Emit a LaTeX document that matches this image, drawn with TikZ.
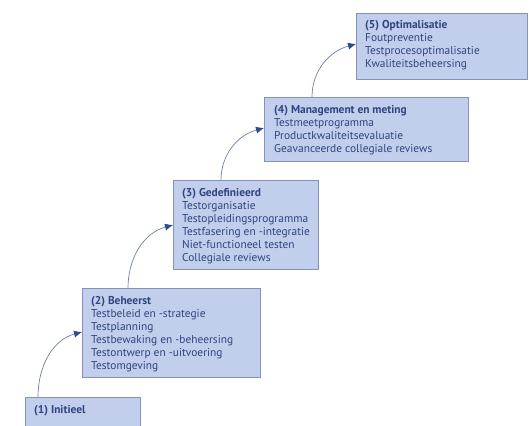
\documentclass[tikz,border=0pt]{standalone}
\usepackage{fontspec}
\setmainfont{PT Sans}
\usetikzlibrary{arrows.meta}
\definecolor{boxfill}{HTML}{C2CFEC}
\definecolor{boxline}{HTML}{8593BC}
\definecolor{txt}{HTML}{2E4480}
\definecolor{arr}{HTML}{2B4C8C}
\definecolor{lin}{HTML}{6F7FA8}
\begin{document}
\begin{tikzpicture}[x=1pt,y=-1pt,
  level/.style={draw=boxline,fill=boxfill,line width=0.8pt,inner sep=0pt,anchor=north west},
  lbl/.style={anchor=north west,inner sep=0pt,align=left,text=txt,font=\fontsize{11.4}{13}\selectfont},
  stepArrow/.style={draw=lin,line width=0.7pt,-{Latex[length=8pt,width=7pt,color=arr]}}]
\useasboundingbox (0,0) rectangle (529,425);
% boxes
\node[level,minimum width=115pt,minimum height=35pt] (b1) at (25,397) {};
\node[level,minimum width=178pt,minimum height=89pt] (b2) at (82,288) {};
\node[level,minimum width=145pt,minimum height=89pt] (b3) at (173,180) {};
\node[level,minimum width=204pt,minimum height=64pt] (b4) at (264,97) {};
\node[level,minimum width=171pt,minimum height=66pt] (b5) at (356,13) {};
% texts
\node[lbl] (t1) at ([xshift=9pt,yshift=-8pt]b1.north west) {\textbf{(1) Initieel}};
\node[lbl] (t2) at ([xshift=9pt,yshift=-8pt]b2.north west) {\textbf{(2) Beheerst}\\Testbeleid en -strategie\\Testplanning\\Testbewaking en -beheersing\\Testontwerp en -uitvoering\\Testomgeving};
\node[lbl] (t3) at ([xshift=9pt,yshift=-8pt]b3.north west) {\textbf{(3) Gedefinieerd}\\Testorganisatie\\Testopleidingsprogramma\\Testfasering en -integratie\\Niet-functioneel testen\\Collegiale reviews};
\node[lbl] (t4) at ([xshift=10pt,yshift=-8pt]b4.north west) {\textbf{(4) Management en meting}\\Testmeetprogramma\\Productkwaliteitsevaluatie\\Geavanceerde collegiale reviews};
\node[lbl] (t5) at ([xshift=9pt,yshift=-7pt]b5.north west) {\textbf{(5) Optimalisatie}\\Foutpreventie\\Testprocesoptimalisatie\\Kwaliteitsbeheersing};
% arrows
\draw[stepArrow] ([xshift=13pt]b1.north west) to[out=90,in=195] ([yshift=-44pt]b2.north west);
\draw[stepArrow] ([xshift=46pt]b2.north west) to[out=90,in=195] ([yshift=-45pt]b3.north west);
\draw[stepArrow] ([xshift=48pt]b3.north west) to[out=90,in=195] ([yshift=-31pt]b4.north west);
\draw[stepArrow] ([xshift=48pt]b4.north west) to[out=90,in=195] ([yshift=-31pt]b5.north west);
\end{tikzpicture}
\end{document}
